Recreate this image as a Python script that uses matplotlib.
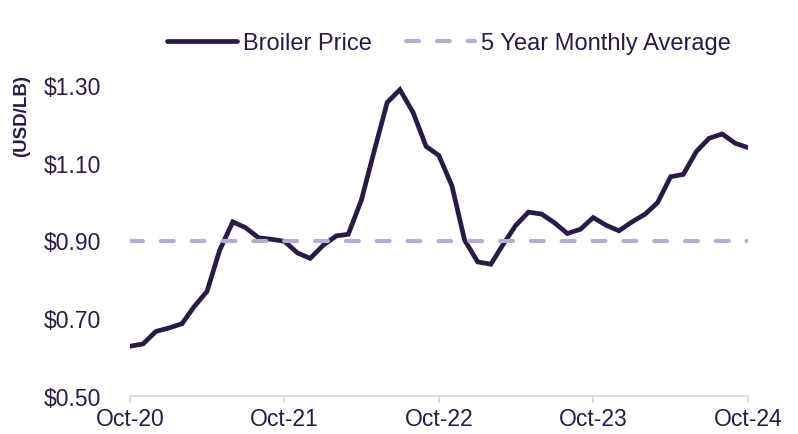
import pandas as pd
import matplotlib
matplotlib.use('Agg')
import matplotlib.pyplot as plt
import matplotlib.dates as mdates

# monthly broiler price, Oct-2020 .. Oct-2024 (USD/LB)
months = pd.date_range('2020-10-01', '2024-10-01', freq='MS')
broiler_price = [0.628, 0.634, 0.666, 0.675, 0.686, 0.729, 0.769, 0.875, 0.948, 0.933,
                 0.907, 0.903, 0.898, 0.868, 0.854, 0.888, 0.912, 0.916, 1.004, 1.129,
                 1.255, 1.288, 1.230, 1.142, 1.119, 1.041, 0.901, 0.845, 0.839, 0.888,
                 0.939, 0.973, 0.968, 0.946, 0.918, 0.929, 0.959, 0.939, 0.925, 0.948,
                 0.968, 0.997, 1.064, 1.070, 1.129, 1.163, 1.174, 1.150, 1.139]
five_year_avg = 0.90
yticks = [0.50, 0.70, 0.90, 1.10, 1.30]

dark = '#2b1a45'
light = '#b3aed0'

plt.rcParams['font.family'] = ['Liberation Sans', 'DejaVu Sans']

fig = plt.figure(figsize=(7.98, 4.35), dpi=100)
ax = fig.add_axes([130/798, 1-397/435, 618/798, 311/435])

ax.plot(months, broiler_price, color=dark, lw=3.4, label='Broiler Price',
        solid_joinstyle='miter', solid_capstyle='round')
ax.plot([months[0], months[-1]], [five_year_avg]*2, color=light, lw=3.0,
        dashes=(3.1, 4.3), dash_capstyle='round', label='5 Year Monthly Average')

ax.set_xlim(months[0], months[-1])
ax.set_ylim(0.50, 1.30)
ax.set_yticks(yticks)
ax.set_yticklabels(['${:.2f}'.format(v) for v in yticks])
ax.set_xticks(months[::12])
ax.xaxis.set_major_formatter(mdates.DateFormatter('%b-%y'))

for s in ['top', 'right', 'left']:
    ax.spines[s].set_visible(False)
ax.spines['bottom'].set_color('#d9d9d9')
ax.spines['bottom'].set_linewidth(1.2)
ax.tick_params(axis='x', colors='#d9d9d9', length=5, width=1.2, labelcolor=dark, labelsize=16.5, pad=3)
ax.tick_params(axis='y', length=0, labelcolor=dark, labelsize=16.5, pad=21)

fig.text(22/798, 1-116/435, '(USD/LB)', rotation=90, ha='center', va='center',
         fontsize=13.5, fontweight='bold', color=dark)

leg = fig.legend(loc='center', bbox_to_anchor=(449/798, 1-44/435), ncol=2, frameon=False,
                 fontsize=17, handlelength=2.95, handletextpad=0.25, columnspacing=1.45,
                 borderpad=0, borderaxespad=0)
for t in leg.get_texts():
    t.set_color(dark)

fig.savefig('out.png', dpi=100)
